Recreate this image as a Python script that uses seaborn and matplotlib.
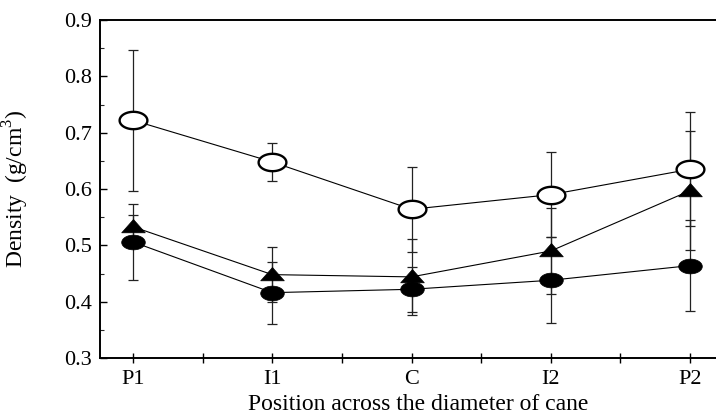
import numpy as np
import matplotlib
matplotlib.use("Agg")
import matplotlib.pyplot as plt
from matplotlib.path import Path
from matplotlib.ticker import MultipleLocator, FixedLocator
import seaborn as sns
import pandas as pd

positions = ["P1", "I1", "C", "I2", "P2"]
open_circle = [0.722, 0.648, 0.564, 0.590, 0.635]
open_circle_err = [0.125, 0.034, 0.075, 0.076, 0.101]
triangle = [0.533, 0.448, 0.444, 0.490, 0.597]
triangle_err = [0.021, 0.049, 0.068, 0.077, 0.106]
filled_circle = [0.506, 0.416, 0.422, 0.438, 0.464]
filled_circle_err = [0.067, 0.055, 0.040, 0.076, 0.081]

sns.set_theme(style="ticks")
plt.rcParams['font.family'] = ['Liberation Serif', 'DejaVu Serif']
plt.rcParams['mathtext.fontset'] = 'custom'
plt.rcParams['mathtext.rm'] = 'Liberation Serif'

fig = plt.figure(figsize=(7.16, 4.17), dpi=100)
ax = fig.add_axes([100/716, 1 - 358/417, 1 - 100/716, (358 - 20)/417])

t = np.linspace(0, 2*np.pi, 60)
ellipse = Path(np.column_stack([1.6*np.cos(t), np.sin(t)]), closed=True)
tri = Path([(-1, -0.45), (1, -0.45), (0, 0.68), (-1, -0.45)], closed=True)

x = np.arange(len(positions))
series = [
    (open_circle, open_circle_err, ellipse, 20, "white", 1.7),
    (triangle, triangle_err, tri, 17, "black", 0.5),
    (filled_circle, filled_circle_err, ellipse, 17, "black", 0.5),
]
for vals, errs, mk, ms, fc, mew in series:
    ax.errorbar(x, vals, yerr=errs, fmt="none", ecolor="#222222",
                elinewidth=0.9, capsize=3.8, capthick=0.9, zorder=1)
for vals, errs, mk, ms, fc, mew in series:
    df = pd.DataFrame({"x": x, "y": vals})
    sns.lineplot(data=df, x="x", y="y", ax=ax, color="black", linewidth=0.8,
                 marker=mk, markersize=ms, markerfacecolor=fc,
                 markeredgecolor="black", markeredgewidth=mew, zorder=3)

ax.set_xlim(-33/139.25, (716 - 133)/139.25)
ax.set_ylim(0.3, 0.9)
ax.set_xticks(x)
ax.set_xticklabels(positions)
ax.xaxis.set_minor_locator(FixedLocator(x[:-1] + 0.5))
ax.yaxis.set_minor_locator(MultipleLocator(0.05))
ax.set_yticks(np.round(np.arange(0.3, 0.91, 0.1), 1))
ax.set_yticklabels([f"{v:.1f}" for v in np.arange(0.3, 0.91, 0.1)])
ax.tick_params(axis="x", which="both", direction="inout", length=7, width=1,
               labelsize=16, pad=5, color="black", labelcolor="black")
ax.tick_params(axis="y", which="major", direction="in", length=5, width=1,
               labelsize=16, pad=6, color="black", labelcolor="black")
ax.tick_params(axis="y", which="minor", direction="in", length=3, width=0.8)

for s in ["left", "bottom", "top"]:
    ax.spines[s].set_visible(True)
    ax.spines[s].set_linewidth(1.4)
    ax.spines[s].set_color("black")
ax.spines["right"].set_visible(False)

ax.set_xlabel("Position across the diameter of cane", fontsize=17, color="black")
ax.set_ylabel("Density  (g/cm$^3$)", fontsize=17, color="black")
ax.xaxis.set_label_coords((418 - 100)/616, (358 - 405)/338)
ax.yaxis.set_label_coords((16 - 100)/616, 0.5)
ax.xaxis.label.set_verticalalignment("center")
ax.yaxis.label.set_verticalalignment("center")

fig.savefig("out.png", dpi=100)
